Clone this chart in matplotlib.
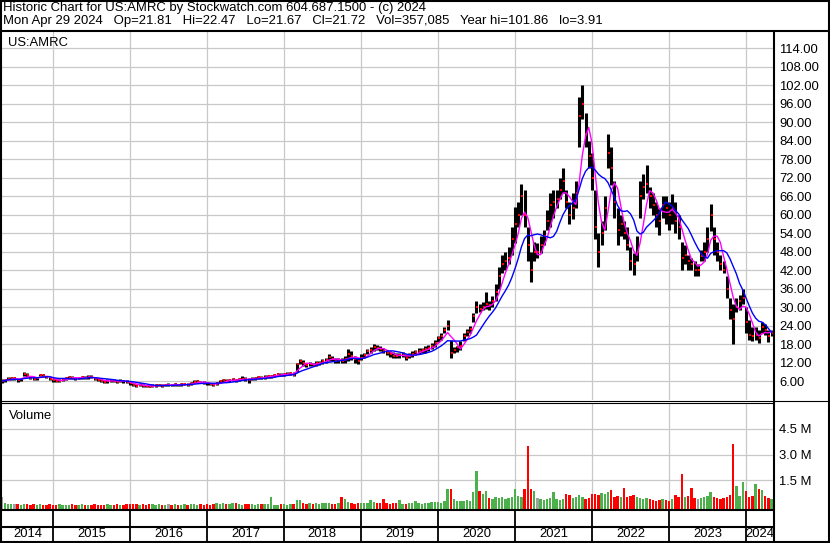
import numpy as np
import pandas as pd
import matplotlib
matplotlib.use("Agg")
import matplotlib.pyplot as plt
from matplotlib.lines import Line2D

plt.rcParams['font.family'] = ['Liberation Sans', 'DejaVu Sans']
plt.rcParams['font.size'] = 9.2

# semi-monthly samples, Apr 2014 -> Apr 2024 (one line per year)
lows = [
    5.4, 5.8, 6.3, 6.4, 6.4, 5.8, 6.0, 7.6, 7.2, 6.5, 6.2, 6.4, 7.6, 7.4, 7.0, 6.2,
    5.8, 5.6, 5.6, 5.9, 6.4, 6.8, 6.6, 6.4, 6.5, 6.8, 6.7, 6.8, 6.9, 6.3, 6.0, 5.6, 5.4, 5.5, 5.8, 5.6, 5.5, 5.7, 5.5, 5.2,
    4.8, 4.4, 4.2, 4.4, 4.2, 4.0, 3.9, 4.1, 4.2, 4.3, 4.2, 4.3, 4.5, 4.4, 4.5, 4.4, 4.5, 4.6, 4.4, 4.8, 5.3, 5.4, 5.2, 5.0,
    4.8, 4.6, 4.5, 4.8, 5.3, 5.6, 5.6, 5.7, 5.9, 5.8, 6.0, 6.2, 6.0, 5.5, 6.2, 6.4, 6.7, 6.6, 6.8, 6.9, 7.0, 7.3, 7.6, 7.5,
    7.6, 7.8, 8.0, 7.6, 9.0, 11.5, 11.0, 10.6, 10.8, 10.8, 11.0, 11.2, 11.6, 12.0, 12.6, 12.4, 12.0, 12.0, 11.8, 12.0, 12.4, 12.8, 12.0, 11.6,
    12.8, 13.4, 14.6, 15.2, 15.8, 16.0, 15.6, 15.0, 14.4, 13.8, 13.6, 13.4, 13.6, 13.8, 12.8, 13.4, 13.8, 14.4, 14.8, 15.0, 15.2, 15.8, 16.4, 17.0,
    18.5, 19.3, 21.5, 22.5, 13.4, 15.0, 15.5, 16.0, 19.0, 20.5, 21.5, 25.0, 28.0, 28.5, 29.0, 29.5, 29.0, 30.0, 32.0, 36.0, 41.0, 42.0, 44.0, 47.0,
    50.7, 56.0, 60.0, 56.0, 45.0, 38.0, 45.0, 46.0, 47.5, 50.0, 55.0, 56.0, 59.0, 62.0, 65.0, 67.0, 62.0, 57.0, 58.5, 62.0, 82.0, 91.0, 82.0, 75.0,
    68.0, 52.0, 43.0, 50.0, 55.0, 75.0, 69.5, 59.0, 50.0, 53.0, 52.0, 48.5, 42.0, 40.5, 45.0, 59.0, 65.0, 67.0, 62.0, 60.0, 56.0, 53.5, 59.0, 57.0,
    55.0, 57.0, 54.0, 52.0, 42.0, 44.0, 42.0, 42.0, 40.0, 40.0, 45.0, 45.0, 48.0, 54.5, 47.0, 45.0, 42.0, 41.0, 33.0, 26.0, 18.0, 28.5, 29.0, 31.0,
    21.5, 19.3, 19.0, 19.3, 18.2, 21.5, 21.0, 18.5, 20.5,
]
highs = [
    6.6, 6.8, 7.2, 7.2, 7.2, 6.6, 7.0, 8.9, 8.5, 7.6, 7.2, 7.4, 8.4, 8.4, 7.6, 7.2,
    6.8, 6.6, 6.6, 6.9, 7.4, 7.7, 7.5, 7.2, 7.4, 7.5, 7.6, 7.8, 7.9, 7.2, 7.0, 6.6, 6.3, 6.6, 6.6, 6.5, 6.3, 6.5, 6.4, 6.2,
    5.8, 5.4, 5.0, 5.2, 5.0, 4.8, 4.7, 4.9, 5.0, 5.0, 4.9, 5.1, 5.2, 5.1, 5.2, 5.1, 5.3, 5.4, 5.2, 5.6, 6.3, 6.4, 6.1, 5.9,
    5.8, 5.4, 5.3, 5.6, 6.3, 6.6, 6.6, 6.8, 7.0, 6.8, 7.0, 7.5, 7.2, 7.0, 7.2, 7.4, 7.7, 7.6, 7.8, 7.9, 8.0, 8.4, 8.6, 8.5,
    8.6, 8.8, 9.0, 8.8, 12.0, 13.2, 12.8, 12.0, 12.2, 12.0, 12.4, 12.6, 13.0, 13.6, 14.8, 14.2, 13.6, 13.4, 13.4, 14.0, 16.4, 15.6, 14.2, 13.6,
    14.6, 15.2, 16.4, 17.0, 18.0, 17.8, 17.4, 16.8, 16.2, 15.6, 15.4, 15.0, 15.2, 15.4, 14.8, 15.2, 15.6, 16.2, 16.6, 16.8, 17.2, 17.6, 18.4, 19.4,
    20.5, 21.5, 23.6, 25.8, 19.3, 17.0, 17.5, 19.0, 21.5, 23.0, 24.0, 28.0, 32.0, 31.0, 31.5, 34.8, 32.0, 33.5, 37.5, 43.0, 47.0, 48.0, 49.5, 56.0,
    62.6, 64.0, 70.0, 68.0, 56.0, 48.0, 51.0, 50.7, 53.0, 55.0, 61.5, 67.0, 68.0, 68.0, 72.0, 75.0, 68.0, 64.0, 67.0, 71.0, 98.0, 101.9, 93.0, 84.0,
    80.0, 68.0, 54.0, 58.0, 66.0, 86.0, 82.0, 71.0, 62.0, 60.0, 58.0, 56.0, 49.6, 47.5, 53.0, 71.0, 73.0, 76.0, 69.0, 67.0, 64.0, 62.0, 66.0, 66.0,
    64.0, 66.6, 64.0, 60.0, 51.0, 50.0, 47.0, 46.0, 45.0, 44.0, 48.5, 51.0, 56.0, 63.5, 56.0, 51.0, 47.0, 45.0, 40.0, 33.0, 31.0, 32.8, 34.0, 36.0,
    30.0, 25.8, 23.6, 23.6, 22.5, 25.3, 24.5, 22.5, 22.5,
]
closes = [
    6.0, 6.3, 6.8, 6.9, 6.9, 6.2, 6.8, 8.4, 7.8, 7.0, 6.5, 7.0, 8.0, 7.9, 7.2, 6.6,
    6.2, 6.0, 6.1, 6.5, 7.0, 7.3, 7.1, 6.8, 7.0, 7.2, 7.1, 7.4, 7.3, 6.6, 6.4, 6.0, 5.8, 6.1, 6.2, 6.0, 5.8, 6.1, 5.9, 5.6,
    5.2, 4.8, 4.5, 4.8, 4.5, 4.3, 4.2, 4.5, 4.6, 4.7, 4.5, 4.8, 4.8, 4.7, 4.9, 4.7, 4.9, 5.0, 4.8, 5.2, 5.8, 5.9, 5.5, 5.3,
    5.2, 4.9, 4.8, 5.2, 5.9, 6.2, 6.0, 6.3, 6.5, 6.2, 6.6, 6.8, 6.6, 6.4, 6.8, 7.0, 7.2, 7.1, 7.4, 7.5, 7.6, 8.0, 8.2, 8.0,
    8.2, 8.4, 8.6, 8.0, 11.5, 12.5, 11.8, 11.2, 11.5, 11.3, 11.8, 12.0, 12.4, 12.8, 13.8, 13.2, 12.6, 12.8, 12.6, 13.0, 14.8, 14.0, 13.0, 12.6,
    13.6, 14.4, 15.6, 16.2, 17.0, 16.8, 16.4, 15.8, 15.2, 14.6, 14.2, 14.0, 14.4, 14.6, 13.6, 14.2, 14.8, 15.4, 15.8, 16.0, 16.4, 16.8, 17.4, 18.2,
    20.0, 20.5, 22.5, 24.0, 15.0, 16.0, 17.0, 17.5, 20.5, 22.0, 23.0, 27.0, 30.0, 29.5, 30.0, 31.0, 30.5, 32.0, 35.0, 40.0, 44.0, 45.0, 46.0, 52.0,
    57.0, 60.0, 66.0, 60.0, 50.0, 42.0, 48.0, 48.0, 50.0, 53.0, 58.0, 63.0, 64.0, 65.0, 68.0, 71.0, 64.0, 60.0, 62.0, 67.0, 92.0, 96.0, 86.0, 79.0,
    72.0, 56.0, 48.0, 54.0, 62.0, 80.0, 75.0, 64.0, 55.0, 57.0, 54.0, 50.0, 45.0, 44.0, 48.0, 66.0, 69.0, 70.0, 66.0, 63.0, 60.0, 58.0, 63.0, 62.0,
    60.0, 62.0, 58.0, 56.0, 46.0, 47.0, 45.0, 44.0, 42.0, 42.0, 46.5, 48.0, 52.0, 60.0, 52.0, 48.0, 44.0, 42.0, 36.0, 29.0, 26.0, 30.0, 32.0, 33.0,
    25.0, 21.0, 20.5, 21.0, 20.0, 23.5, 22.5, 20.5, 21.72,
]
# volume in millions of shares
volumes = [
    0.55, 0.15, 0.12, 0.14, 0.10, 0.12, 0.09, 0.13, 0.10, 0.08, 0.10, 0.09, 0.12, 0.08, 0.09, 0.10,
    0.08, 0.07, 0.10, 0.06, 0.09, 0.07, 0.12, 0.08, 0.06, 0.10, 0.07, 0.09, 0.08, 0.11, 0.07, 0.09, 0.06, 0.10, 0.08, 0.07, 0.11, 0.08, 0.09, 0.12,
    0.14, 0.10, 0.12, 0.08, 0.13, 0.09, 0.10, 0.14, 0.08, 0.11, 0.09, 0.07, 0.10, 0.08, 0.12, 0.07, 0.09, 0.11, 0.08, 0.10, 0.13, 0.09, 0.10, 0.08,
    0.10, 0.09, 0.12, 0.18, 0.14, 0.20, 0.12, 0.10, 0.16, 0.18, 0.11, 0.09, 0.13, 0.10, 0.14, 0.09, 0.12, 0.10, 0.11, 0.12, 0.50, 0.08, 0.09, 0.12,
    0.12, 0.09, 0.10, 0.12, 0.36, 0.34, 0.16, 0.12, 0.18, 0.14, 0.20, 0.12, 0.16, 0.18, 0.20, 0.14, 0.12, 0.15, 0.50, 0.40, 0.22, 0.16, 0.14, 0.18,
    0.16, 0.20, 0.18, 0.38, 0.22, 0.18, 0.16, 0.42, 0.20, 0.14, 0.18, 0.16, 0.38, 0.14, 0.12, 0.16, 0.20, 0.28, 0.16, 0.14, 0.20, 0.18, 0.22, 0.24,
    0.25, 0.20, 0.30, 1.00, 1.00, 0.40, 0.30, 0.30, 0.28, 0.35, 0.30, 0.80, 2.05, 0.90, 0.70, 0.85, 0.45, 0.40, 0.50, 0.45, 0.50, 0.40, 0.45, 0.55,
    0.98, 0.60, 0.55, 1.00, 3.47, 1.00, 0.88, 0.45, 0.40, 0.35, 0.40, 0.45, 0.80, 0.40, 0.35, 0.40, 0.70, 0.65, 0.45, 0.50, 0.66, 0.50, 0.40, 0.45,
    0.70, 0.72, 0.65, 0.75, 0.70, 0.80, 0.92, 0.55, 0.60, 0.50, 1.06, 0.55, 0.60, 0.65, 0.50, 0.45, 0.40, 0.45, 0.40, 0.35, 0.30, 0.35, 0.40, 0.35,
    0.30, 0.40, 0.63, 0.50, 1.85, 0.55, 0.60, 1.06, 0.45, 0.40, 0.45, 0.50, 0.60, 0.82, 0.55, 0.45, 0.40, 0.45, 0.55, 0.65, 3.60, 1.15, 0.60, 1.38,
    0.86, 0.55, 0.60, 1.27, 1.02, 0.95, 0.60, 0.45, 0.40,
]
years = list(range(2014, 2025))
price_ticks = list(range(6, 115, 6))
volume_ticks = [1.5, 3.0, 4.5]

header1 = "Historic Chart for US:AMRC by Stockwatch.com 604.687.1500 - (c) 2024"
header2 = ("Mon Apr 29 2024   Op=21.81   Hi=22.47   Lo=21.67   Cl=21.72   "
           "Vol=357,085   Year hi=101.86   lo=3.91")

lows, highs, closes, volumes = map(np.array, (lows, highs, closes, volumes))
dates = 2014 + 4 / 12 + np.arange(len(closes)) / 24
ma_fast = pd.Series(closes).rolling(4, min_periods=1).mean()
ma_slow = pd.Series(closes).rolling(9, min_periods=1).mean()
chg = np.diff(closes, prepend=closes[0])
vcolors = np.where(chg > 0, "#4cb04c", np.where(chg < 0, "#ff0000", "#a0a0a0"))

W, H = 830, 543
fig = plt.figure(figsize=(W / 100, H / 100), dpi=100)
fig.patch.set_facecolor("white")


def fx(px):
    return px / W


def fy(py):
    return 1 - py / H


def hline(y, xa, xb, lw):
    fig.add_artist(Line2D([fx(xa), fx(xb)], [fy(y), fy(y)], color="k", lw=lw,
                          transform=fig.transFigure, solid_capstyle="butt"))


def vline(x, ya, yb, lw):
    fig.add_artist(Line2D([fx(x), fx(x)], [fy(ya), fy(yb)], color="k", lw=lw,
                          transform=fig.transFigure, solid_capstyle="butt"))


X0, X1 = 2, 773
XLIM = (2014.339, 2024.351)
grid_kw = dict(color="#c8c8c8", lw=0.9)

ax_p = fig.add_axes([fx(X0), fy(400), fx(X1 - X0), (400 - 32) / H])
ax_v = fig.add_axes([fx(X0), fy(509.5), fx(X1 - X0), (509.5 - 403) / H])
ax_d = fig.add_axes([fx(X0), fy(542), fx(X1 - X0), (542 - 510) / H])

# price panel
ax_p.vlines(dates, lows, highs, color="k", lw=2.2)
ax_p.plot(dates + 0.012, closes, ls="", marker="s", ms=1.6, mew=0, color="red")
ax_p.plot(dates, ma_fast, color="#ff00ff", lw=1.0)
ax_p.plot(dates, ma_slow, color="#0000ff", lw=1.0)
ax_p.set_xlim(*XLIM)
ax_p.set_ylim(-0.16, 119.2)
ax_p.set_yticks(price_ticks)
ax_p.set_yticklabels([f"{t:.2f}" for t in price_ticks])
ax_p.set_xticks(years[1:])
ax_p.set_xticklabels([])
ax_p.text(0.008, 0.987, "US:AMRC", transform=ax_p.transAxes, va="top", ha="left",
          fontsize=9.4)

# volume panel
ax_v.bar(dates, volumes + 0.2, bottom=-0.2, width=0.75 / 24, color=vcolors, lw=0)
ax_v.set_xlim(*XLIM)
ax_v.set_ylim(-0.2, 6.0)
ax_v.set_yticks(volume_ticks)
ax_v.set_yticklabels([f"{t:.1f} M" for t in volume_ticks])
ax_v.set_xticks(years[1:])
ax_v.set_xticklabels([])
ax_v.text(0.009, 0.93, "Volume", transform=ax_v.transAxes, va="top", ha="left",
          fontsize=9.4)

for ax in (ax_p, ax_v):
    ax.grid(True, **grid_kw)
    ax.set_axisbelow(True)
    ax.yaxis.tick_right()
    ax.tick_params(length=0, pad=4.6, labelsize=9.4)
    for s in ax.spines.values():
        s.set_visible(False)

# date strip
ax_d.set_xlim(*XLIM)
ax_d.set_ylim(0, 1)
ax_d.axis("off")
edges = [XLIM[0]] + years[1:] + [XLIM[1]]
for y0, a, b in zip(years, edges[:-1], edges[1:]):
    ax_d.text((a + b) / 2, 0.24, str(y0), ha="center", va="center", fontsize=9.4)
for y0 in years[1:]:
    ax_d.axvline(y0, color="k", lw=1.3)

# frame lines
hline(1, 0, 830, 1.5)
hline(542, 0, 830, 1.5)
vline(0.8, 0, 543, 1.5)
vline(828.5, 0, 543, 1.5)
hline(31, 0, 830, 1.5)
vline(774, 31, 543, 1.5)
hline(400.8, 0, 830, 0.8)
hline(402.8, 0, 774, 0.8)
hline(510, 0, 774, 1.5)
hline(527, 0, 774, 1.5)

fig.text(fx(3), fy(7.8), header1, va="center", ha="left", fontsize=9.45)
fig.text(fx(3), fy(21.3), header2, va="center", ha="left", fontsize=9.45)

fig.savefig("out.png", dpi=100, facecolor="white")
